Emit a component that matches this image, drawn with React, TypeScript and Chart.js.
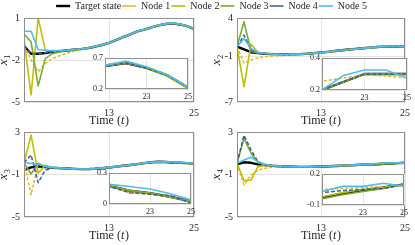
import { useEffect, useRef } from "react";
import { Chart, registerables } from "chart.js";

Chart.register(...registerables);

// ---------------- data ----------------
const TIME = [1, 2, 3, 4, 5, 6, 7, 8, 9, 10, 11, 12, 13, 14, 15, 16, 17, 18, 19, 20, 21, 22, 23, 24, 25];
const SERIES_NAMES = ["Target state", "Node 1", "Node 2", "Node 3", "Node 4", "Node 5"];

const X1_TARGET = [-1.0, -1.55, -1.55, -1.5, -1.42, -1.37, -1.32, -1.27, -1.22, -1.15, -1.05, -0.93, -0.78, -0.58, -0.37, -0.17, 0.04, 0.17, 0.33, 0.47, 0.57, 0.62, 0.54, 0.42, 0.22];
const X1_NODE1 = [-1.0, -2.0, -2.85, -2.25, -1.9, -1.7, -1.52, -1.38, -1.26, -1.16, -1.06, -0.94, -0.79, -0.59, -0.38, -0.18, 0.03, 0.17, 0.33, 0.48, 0.6, 0.63, 0.55, 0.42, 0.21];
const X1_NODE2 = [-0.5, -4.5, 1.0, -1.28, -1.38, -1.36, -1.32, -1.27, -1.22, -1.15, -1.05, -0.93, -0.78, -0.58, -0.37, -0.17, 0.04, 0.17, 0.33, 0.47, 0.57, 0.62, 0.54, 0.41, 0.21];
const X1_NODE3 = [-0.15, -0.7, -3.85, -1.9, -1.55, -1.42, -1.34, -1.28, -1.22, -1.15, -1.05, -0.93, -0.78, -0.58, -0.37, -0.17, 0.04, 0.17, 0.33, 0.47, 0.57, 0.62, 0.55, 0.43, 0.22];
const X1_NODE4 = [-0.95, -1.55, -1.55, -1.48, -1.42, -1.37, -1.32, -1.27, -1.22, -1.15, -1.05, -0.93, -0.78, -0.58, -0.37, -0.17, 0.04, 0.17, 0.33, 0.47, 0.57, 0.62, 0.54, 0.42, 0.23];
const X1_NODE5 = [0.05, 0.05, -1.25, -1.3, -1.32, -1.32, -1.3, -1.26, -1.21, -1.14, -1.04, -0.92, -0.77, -0.57, -0.36, -0.16, 0.05, 0.18, 0.34, 0.48, 0.58, 0.65, 0.56, 0.43, 0.23];

const X2_TARGET = [0.25, -0.12, -0.48, -0.6, -0.68, -0.73, -0.76, -0.77, -0.76, -0.73, -0.68, -0.6, -0.52, -0.43, -0.33, -0.23, -0.13, -0.05, 0.04, 0.12, 0.2, 0.25, 0.3, 0.3, 0.3];
const X2_NODE1 = [0.25, -1.9, -1.5, -1.22, -1.06, -0.98, -0.92, -0.88, -0.84, -0.8, -0.74, -0.66, -0.57, -0.47, -0.37, -0.26, -0.15, -0.06, 0.04, 0.14, 0.255, 0.275, 0.295, 0.287, 0.277];
const X2_NODE2 = [0.25, -5.0, 0.55, -0.5, -0.63, -0.72, -0.76, -0.77, -0.76, -0.73, -0.68, -0.6, -0.52, -0.43, -0.33, -0.23, -0.13, -0.05, 0.04, 0.12, 0.2, 0.25, 0.3, 0.3, 0.3];
const X2_NODE3 = [0.25, 3.5, -0.35, -0.6, -0.65, -0.72, -0.76, -0.77, -0.76, -0.73, -0.68, -0.6, -0.52, -0.43, -0.33, -0.23, -0.13, -0.05, 0.04, 0.12, 0.2, 0.25, 0.3, 0.3, 0.3];
const X2_NODE4 = [0.25, 1.75, -0.2, -0.55, -0.64, -0.72, -0.76, -0.77, -0.76, -0.73, -0.68, -0.6, -0.52, -0.43, -0.33, -0.23, -0.13, -0.05, 0.04, 0.12, 0.2, 0.25, 0.3, 0.3, 0.3];
const X2_NODE5 = [0.25, 1.3, 0.0, -0.5, -0.62, -0.72, -0.76, -0.77, -0.76, -0.73, -0.68, -0.6, -0.52, -0.43, -0.33, -0.23, -0.13, -0.05, 0.04, 0.12, 0.2, 0.29, 0.325, 0.325, 0.275];

const X3_TARGET = [-0.58, -0.33, -0.22, -0.3, -0.36, -0.4, -0.44, -0.47, -0.49, -0.49, -0.46, -0.41, -0.34, -0.26, -0.18, -0.1, -0.02, 0.07, 0.15, 0.2, 0.175, 0.13, 0.105, 0.07, 0.025];
const X3_NODE1 = [0.1, -2.9, 0.0, -0.25, -0.38, -0.41, -0.44, -0.47, -0.49, -0.49, -0.46, -0.41, -0.34, -0.26, -0.18, -0.1, -0.02, 0.07, 0.15, 0.2, 0.17, 0.11, 0.095, 0.08, 0.01];
const X3_NODE2 = [0.1, 2.72, -0.89, -0.12, -0.34, -0.4, -0.44, -0.47, -0.49, -0.49, -0.46, -0.41, -0.34, -0.26, -0.18, -0.1, -0.02, 0.07, 0.15, 0.2, 0.175, 0.13, 0.105, 0.07, 0.025];
const X3_NODE3 = [0.1, -0.95, 0.05, -0.26, -0.36, -0.4, -0.44, -0.47, -0.49, -0.49, -0.46, -0.41, -0.34, -0.26, -0.18, -0.1, -0.02, 0.07, 0.15, 0.2, 0.175, 0.13, 0.1, 0.065, 0.02];
const X3_NODE4 = [0.1, 0.84, -1.77, -0.58, -0.4, -0.41, -0.44, -0.47, -0.49, -0.49, -0.46, -0.41, -0.34, -0.26, -0.18, -0.1, -0.02, 0.07, 0.15, 0.2, 0.17, 0.11, 0.095, 0.08, 0.01];
const X3_NODE5 = [0.1, 0.05, -0.05, -0.2, -0.33, -0.38, -0.43, -0.46, -0.48, -0.48, -0.45, -0.4, -0.33, -0.25, -0.17, -0.09, -0.01, 0.08, 0.16, 0.21, 0.19, 0.17, 0.145, 0.1, 0.04];

const X4_TARGET = [-0.04, 0.15, 0.1, -0.04, -0.1, -0.17, -0.22, -0.25, -0.27, -0.28, -0.28, -0.27, -0.25, -0.23, -0.2, -0.17, -0.14, -0.1, -0.07, -0.04, -0.03, 0.01, 0.04, 0.07, 0.1];
const X4_NODE1 = [0.05, -1.99, -1.05, -0.58, -0.42, -0.32, -0.27, -0.26, -0.27, -0.28, -0.28, -0.27, -0.25, -0.23, -0.2, -0.17, -0.14, -0.1, -0.06, -0.02, 0.05, 0.06, 0.07, 0.08, 0.09];
const X4_NODE2 = [0.05, -1.58, -1.52, -0.26, -0.15, -0.18, -0.22, -0.25, -0.27, -0.28, -0.28, -0.27, -0.25, -0.23, -0.2, -0.17, -0.14, -0.1, -0.07, -0.04, -0.02, 0.02, 0.05, 0.07, 0.1];
const X4_NODE3 = [0.05, 2.4, 1.0, 0.11, -0.1, -0.18, -0.22, -0.25, -0.27, -0.28, -0.28, -0.27, -0.25, -0.23, -0.2, -0.17, -0.14, -0.1, -0.07, -0.04, -0.04, 0.0, 0.03, 0.06, 0.1];
const X4_NODE4 = [0.05, 2.7, 1.3, 0.2, -0.1, -0.18, -0.22, -0.25, -0.27, -0.28, -0.28, -0.27, -0.25, -0.23, -0.2, -0.17, -0.14, -0.1, -0.06, -0.02, 0.02, 0.04, 0.05, 0.06, 0.1];
const X4_NODE5 = [0.05, 0.36, 0.62, 0.2, -0.04, -0.16, -0.21, -0.24, -0.26, -0.27, -0.27, -0.26, -0.24, -0.22, -0.19, -0.16, -0.13, -0.09, -0.06, -0.02, 0.03, 0.08, 0.08, 0.11, 0.08];

const X_TICKS = [13, 25];
const INSET_X_TICKS = [23, 25];
const Y1_TICKS = [-5, -2, 1];
const Y2_TICKS = [-7, -1, 4];
const Y3_TICKS = [-5, -1, 3];
const Y4_TICKS = [-5, -1, 3];
const INSET1_Y_TICKS = [0.2, 0.7];
const INSET2_Y_TICKS = [0.2, 0.4];
const INSET3_Y_TICKS = [0, 0.3];
const INSET4_Y_TICKS = [-0.1, 0.2];

// ---------------- styles ----------------
const SERIF = "'Liberation Serif', 'Times New Roman', 'DejaVu Serif', serif";
const COLORS = ["#000000", "#EDB120", "#BFBF00", "#77AC30", "#3D5A9E", "#4DBEEE"];
const WIDTHS = [2.4, 1.5, 1.6, 1.6, 1.5, 1.6];
const DASHES: number[][] = [[], [3, 2], [], [], [4, 2], []];
const GRID = "#e4e4e4";
const FRAME = "#8f8f8f";
const TEXT = "#262626";

type Area = { l: number; r: number; t: number; b: number };
type Panel = {
  series: number[][];
  sub: string;
  area: Area;
  yMin: number;
  yMax: number;
  yTicks: number[];
  inset: { area: Area; yMin: number; yMax: number; yTicks: number[] };
};

const PANELS: Panel[] = [
  {
    series: [X1_TARGET, X1_NODE1, X1_NODE2, X1_NODE3, X1_NODE4, X1_NODE5],
    sub: "1",
    area: { l: 24, r: 194, t: 18, b: 102 },
    yMin: -5, yMax: 1, yTicks: Y1_TICKS,
    inset: { area: { l: 105, r: 188, t: 58, b: 89 }, yMin: 0.2, yMax: 0.7, yTicks: INSET1_Y_TICKS },
  },
  {
    series: [X2_TARGET, X2_NODE1, X2_NODE2, X2_NODE3, X2_NODE4, X2_NODE5],
    sub: "2",
    area: { l: 237, r: 409, t: 18, b: 102 },
    yMin: -7, yMax: 4, yTicks: Y2_TICKS,
    inset: { area: { l: 322, r: 407, t: 58, b: 90 }, yMin: 0.2, yMax: 0.4, yTicks: INSET2_Y_TICKS },
  },
  {
    series: [X3_TARGET, X3_NODE1, X3_NODE2, X3_NODE3, X3_NODE4, X3_NODE5],
    sub: "3",
    area: { l: 24, r: 194, t: 132, b: 217 },
    yMin: -5, yMax: 3, yTicks: Y3_TICKS,
    inset: { area: { l: 109, r: 191, t: 173, b: 204 }, yMin: 0, yMax: 0.3, yTicks: INSET3_Y_TICKS },
  },
  {
    series: [X4_TARGET, X4_NODE1, X4_NODE2, X4_NODE3, X4_NODE4, X4_NODE5],
    sub: "4",
    area: { l: 237, r: 409, t: 132, b: 217 },
    yMin: -5, yMax: 3, yTicks: Y4_TICKS,
    inset: { area: { l: 322, r: 404, t: 174, b: 205 }, yMin: -0.1, yMax: 0.2, yTicks: INSET4_Y_TICKS },
  },
];

const W = 415;
const H = 245;

function framePlugin(fillWhite: boolean, sub: string | null, showX: boolean) {
  return {
    id: "frameAndTitles",
    beforeDraw(chart: any) {
      if (!fillWhite) return;
      const { ctx, chartArea: a } = chart;
      ctx.save();
      ctx.fillStyle = "#ffffff";
      ctx.fillRect(a.left, a.top, a.right - a.left, a.bottom - a.top);
      ctx.restore();
    },
    afterDraw(chart: any) {
      const { ctx, chartArea: a } = chart;
      ctx.save();
      ctx.strokeStyle = FRAME;
      ctx.lineWidth = 1;
      ctx.strokeRect(Math.round(a.left) + 0.5, Math.round(a.top) + 0.5, Math.round(a.right - a.left) - 1, Math.round(a.bottom - a.top) - 1);
      ctx.fillStyle = TEXT;
      ctx.textBaseline = "middle";
      ctx.textAlign = "left";
      if (showX) {
        const y = a.bottom + 19;
        const f1 = `12px ${SERIF}`;
        const f2 = `italic 12px ${SERIF}`;
        ctx.font = f1;
        const w1 = ctx.measureText("Time (").width;
        const w3 = ctx.measureText(")").width;
        ctx.font = f2;
        const w2 = ctx.measureText("t").width + 0.8;
        let x = (a.left + a.right) / 2 - (w1 + w2 + w3) / 2;
        ctx.font = f1;
        ctx.fillText("Time (", x, y);
        x += w1;
        ctx.font = f2;
        ctx.fillText("t", x, y);
        x += w2;
        ctx.font = f1;
        ctx.fillText(")", x, y);
      }
      if (sub) {
        ctx.translate(a.left - 19, (a.top + a.bottom) / 2);
        ctx.rotate(-Math.PI / 2);
        const fx = `italic 13px ${SERIF}`;
        const fs = `8px ${SERIF}`;
        ctx.font = fx;
        const wx = ctx.measureText("x").width;
        ctx.font = fs;
        const ws = ctx.measureText(sub).width;
        const start = -(wx + ws + 0.5) / 2;
        ctx.font = fx;
        ctx.fillText("x", start, -1);
        ctx.font = fs;
        ctx.fillText(sub, start + wx + 0.5, 3);
      }
      ctx.restore();
    },
  };
}

function buildDatasets(series: number[][]) {
  return series.map((vals, i) => ({
    label: SERIES_NAMES[i],
    data: TIME.map((t, k) => ({ x: t, y: vals[k] })),
    borderColor: COLORS[i],
    backgroundColor: COLORS[i],
    borderWidth: WIDTHS[i],
    borderDash: DASHES[i],
    pointRadius: 0,
    tension: 0,
    clip: 0,
    order: series.length - i,
    borderJoinStyle: "round" as const,
  }));
}

function makeChart(
  canvas: HTMLCanvasElement,
  series: number[][],
  area: Area,
  xMin: number,
  xMax: number,
  xTicks: number[],
  yMin: number,
  yMax: number,
  yTicks: number[],
  isInset: boolean,
  sub: string | null
) {
  const fontSize = isInset ? 8 : 10;
  const yW = isInset ? 18 : 22;
  const xH = isInset ? 14 : 18;
  return new Chart(canvas, {
    type: "line",
    data: { datasets: buildDatasets(series) as any },
    options: {
      responsive: false,
      animation: false,
      devicePixelRatio: 1,
      events: [],
      layout: { padding: { left: area.l - yW, right: W - area.r, top: area.t, bottom: H - area.b - xH } },
      plugins: { legend: { display: false }, tooltip: { enabled: false } },
      scales: {
        x: {
          type: "linear",
          min: xMin,
          max: xMax,
          afterBuildTicks: (s: any) => {
            s.ticks = xTicks.map((v) => ({ value: v }));
          },
          afterFit: (s: any) => {
            s.height = xH;
          },
          grid: { color: GRID, drawTicks: false, lineWidth: 1 },
          border: { display: false },
          ticks: {
            autoSkip: false,
            maxRotation: 0,
            padding: isInset ? 3 : 5,
            color: TEXT,
            font: { family: SERIF, size: fontSize },
            callback: (v: any) => String(v),
          },
        },
        y: {
          type: "linear",
          min: yMin,
          max: yMax,
          afterBuildTicks: (s: any) => {
            s.ticks = yTicks.map((v) => ({ value: v }));
          },
          afterFit: (s: any) => {
            s.width = yW;
          },
          grid: { color: GRID, drawTicks: false, lineWidth: 1 },
          border: { display: false },
          ticks: {
            autoSkip: false,
            padding: isInset ? 2 : 4,
            color: TEXT,
            font: { family: SERIF, size: fontSize },
            callback: (v: any) => String(v),
          },
        },
      },
    } as any,
    plugins: [framePlugin(isInset, sub, !isInset) as any],
  });
}

function makeLegend(canvas: HTMLCanvasElement) {
  return new Chart(canvas, {
    type: "line",
    data: {
      datasets: SERIES_NAMES.map((name, i) => ({
        label: name,
        data: [],
        borderColor: COLORS[i],
        backgroundColor: COLORS[i],
        borderWidth: WIDTHS[i],
        borderDash: DASHES[i],
      })),
    },
    options: {
      responsive: false,
      animation: false,
      devicePixelRatio: 1,
      events: [],
      layout: { padding: { left: 8, right: 0, top: 0, bottom: 0 } },
      scales: { x: { display: false }, y: { display: false } },
      plugins: {
        tooltip: { enabled: false },
        legend: {
          position: "top",
          labels: {
            usePointStyle: true,
            pointStyle: "line",
            pointStyleWidth: 14,
            boxHeight: 10,
            padding: 1,
            color: TEXT,
            font: { family: SERIF, size: 10 },
          },
        },
      },
    } as any,
  });
}

export default function App() {
  const refs = useRef<(HTMLCanvasElement | null)[]>([]);

  useEffect(() => {
    const charts: Chart[] = [];
    PANELS.forEach((p, i) => {
      const c = refs.current[i];
      if (c) charts.push(makeChart(c, p.series, p.area, 1, 25, X_TICKS, p.yMin, p.yMax, p.yTicks, false, p.sub));
    });
    PANELS.forEach((p, i) => {
      const c = refs.current[4 + i];
      if (c) charts.push(makeChart(c, p.series, p.inset.area, 21, 25, INSET_X_TICKS, p.inset.yMin, p.inset.yMax, p.inset.yTicks, true, null));
    });
    const lc = refs.current[8];
    if (lc) charts.push(makeLegend(lc));
    return () => charts.forEach((c) => c.destroy());
  }, []);

  return (
    <div style={{ position: "fixed", left: 0, top: 0, width: W, height: H, background: "#ffffff", overflow: "hidden" }}>
      {Array.from({ length: 9 }).map((_, i) => (
        <canvas
          key={i}
          ref={(el) => {
            refs.current[i] = el;
          }}
          width={W}
          height={H}
          style={{ position: "absolute", left: 0, top: 0, width: W, height: H }}
        />
      ))}
    </div>
  );
}
